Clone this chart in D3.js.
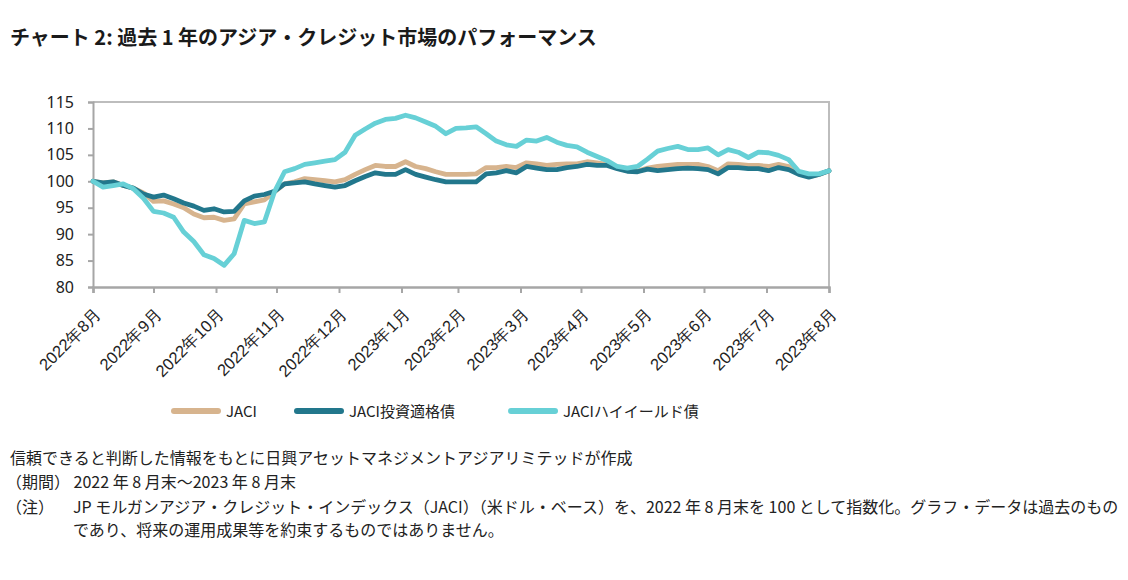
<!DOCTYPE html>
<html>
<head>
<meta charset="utf-8">
<script src="https://cdn.jsdelivr.net/npm/d3@7"></script>
<style>
  body { margin: 0; background: #fff; }
  svg { display: block; font-family: "Noto Sans CJK JP", "Noto Sans", sans-serif; }
</style>
</head>
<body>
<svg id="graphic-svg" width="1128" height="580"></svg>
<script>
// dates, roughly every 5 days
var dates = ["2022-08-31","2022-09-05","2022-09-10","2022-09-15","2022-09-20","2022-09-25","2022-09-30",
  "2022-10-05","2022-10-10","2022-10-15","2022-10-20","2022-10-25","2022-10-30","2022-11-04","2022-11-09",
  "2022-11-14","2022-11-19","2022-11-24","2022-11-29","2022-12-04","2022-12-09","2022-12-14","2022-12-19",
  "2022-12-24","2022-12-29","2023-01-03","2023-01-08","2023-01-13","2023-01-18","2023-01-23","2023-01-28",
  "2023-02-02","2023-02-07","2023-02-12","2023-02-17","2023-02-22","2023-02-27","2023-03-04","2023-03-09",
  "2023-03-14","2023-03-19","2023-03-24","2023-03-29","2023-04-03","2023-04-08","2023-04-13","2023-04-18",
  "2023-04-23","2023-04-28","2023-05-03","2023-05-08","2023-05-13","2023-05-18","2023-05-23","2023-05-28",
  "2023-06-02","2023-06-07","2023-06-12","2023-06-17","2023-06-22","2023-06-27","2023-07-02","2023-07-07",
  "2023-07-12","2023-07-17","2023-07-22","2023-07-27","2023-08-01","2023-08-06","2023-08-11","2023-08-16",
  "2023-08-21","2023-08-26","2023-08-31"];

var jaci = [100.0,99.7,99.9,99.2,98.7,97.8,96.2,96.3,95.7,95.0,93.8,93.1,93.2,92.6,92.9,95.7,96.1,96.5,98.0,
  99.5,99.9,100.5,100.3,100.1,99.9,100.3,101.3,102.2,103.0,102.8,102.8,103.7,102.8,102.4,101.8,101.3,101.3,
  101.3,101.4,102.6,102.6,102.8,102.6,103.5,103.3,103.0,103.2,103.3,103.3,103.7,103.5,103.2,102.5,102.0,101.9,
  102.5,102.8,103.0,103.2,103.2,103.2,102.8,102.0,103.3,103.2,103.0,103.0,102.8,103.2,102.8,101.6,100.9,101.3,102.0];

var jaciIG = [100.0,99.7,99.9,99.2,98.7,97.6,97.0,97.4,96.7,95.9,95.3,94.5,94.8,94.2,94.3,96.3,97.2,97.5,98.1,
  99.5,99.7,99.9,99.5,99.2,98.9,99.2,100.1,100.9,101.6,101.3,101.3,102.2,101.3,100.8,100.3,99.9,99.9,
  99.9,99.9,101.4,101.6,102.0,101.6,102.8,102.5,102.2,102.2,102.6,102.8,103.2,103.0,103.0,102.4,101.9,101.8,
  102.3,102.0,102.2,102.4,102.5,102.4,102.2,101.4,102.6,102.6,102.4,102.4,102.0,102.6,102.2,101.3,100.8,101.3,102.0];

var jaciHY = [100.0,98.9,99.2,99.5,98.6,96.8,94.3,94.0,93.2,90.4,88.6,86.1,85.4,84.1,86.3,92.6,92.0,92.3,98.0,
  101.8,102.4,103.2,103.5,103.8,104.1,105.5,108.7,109.9,111.0,111.7,111.9,112.5,112.0,111.2,110.4,109.0,110.0,
  110.1,110.3,109.0,107.6,106.9,106.6,107.8,107.6,108.3,107.4,106.8,106.5,105.5,104.7,103.9,102.8,102.5,102.8,
  104.2,105.7,106.2,106.6,106.0,106.0,106.3,105.0,106.0,105.5,104.5,105.5,105.4,104.9,104.1,101.9,101.4,101.4,102.0];

var tickDates = ["2022-08-31","2022-09-30","2022-10-31","2022-11-30","2022-12-31","2023-01-31","2023-02-28",
  "2023-03-31","2023-04-30","2023-05-31","2023-06-30","2023-07-31","2023-08-31"];
var tickLabels = ["2022年8月","2022年9月","2022年10月","2022年11月","2022年12月","2023年1月","2023年2月",
  "2023年3月","2023年4月","2023年5月","2023年6月","2023年7月","2023年8月"];
var yTicks = [80, 85, 90, 95, 100, 105, 110, 115];

var seriesNames = ["JACI", "JACI投資適格債", "JACIハイイールド債"];
var seriesColors = ["#d7b48e", "#22778c", "#67d0d6"];

var svg = d3.select("#graphic-svg");
var margin = { left: 93, right: 299, top: 102, bottom: 293 };
var plotW = 1128 - margin.left - margin.right;
var plotH = 580 - margin.top - margin.bottom;

var parse = d3.timeParse("%Y-%m-%d");
var x = d3.scaleTime()
  .domain([parse(dates[0]), parse(dates[dates.length - 1])])
  .range([margin.left, margin.left + plotW]);
var y = d3.scaleLinear()
  .domain([80, 115])
  .range([margin.top + plotH, margin.top]);

// Title
svg.append("text")
  .attr("x", 10).attr("y", 45)
  .attr("font-size", 20).attr("font-weight", "bold").attr("fill", "#1a1a1a")
  .text("チャート 2: 過去 1 年のアジア・クレジット市場のパフォーマンス");

// frame (top + right)
svg.append("path")
  .attr("d", "M" + margin.left + "," + margin.top + "H" + (margin.left + plotW) + "V" + (margin.top + plotH))
  .attr("fill", "none").attr("stroke", "#bdbdbd").attr("stroke-width", 2);

// Y axis
var yAxis = svg.append("g")
  .attr("transform", "translate(" + margin.left + ",0)")
  .call(d3.axisLeft(y).tickValues(yTicks).tickSize(5).tickPadding(14));
yAxis.select(".domain").attr("stroke", "#a6a6a6").attr("stroke-width", 2);
yAxis.selectAll(".tick line").attr("stroke", "#a6a6a6").attr("stroke-width", 2);
yAxis.selectAll(".tick text").attr("font-size", 16).attr("fill", "#222")
  .attr("font-family", "'Noto Sans', sans-serif");

// X axis
var xAxis = svg.append("g")
  .attr("transform", "translate(0," + (margin.top + plotH) + ")")
  .call(d3.axisBottom(x).tickValues(tickDates.map(parse)).tickSize(6)
    .tickFormat(function(d, i) { return tickLabels[i]; }));
xAxis.select(".domain").attr("stroke", "#a6a6a6").attr("stroke-width", 2.5);
xAxis.selectAll(".tick line").attr("stroke", "#a6a6a6").attr("stroke-width", 2);
xAxis.selectAll(".tick text")
  .attr("font-size", 16.5).attr("fill", "#222")
  .attr("text-anchor", "end")
  .attr("dy", null).attr("y", null)
  .attr("transform", "translate(9,28) rotate(-45)");

// Lines
var seriesData = [jaci, jaciIG, jaciHY];
var line = d3.line()
  .x(function(d, i) { return x(parse(dates[i])); })
  .y(function(d) { return y(d); });

svg.selectAll(".series")
  .data(seriesData)
  .enter()
  .append("path")
  .attr("class", "series")
  .attr("d", line)
  .attr("fill", "none")
  .attr("stroke", function(d, i) { return seriesColors[i]; })
  .attr("stroke-width", 4.8)
  .attr("stroke-linejoin", "round")
  .attr("stroke-linecap", "round");

// Legend
var legendX = [171, 294, 508];
var legend = svg.selectAll(".legend")
  .data(seriesNames)
  .enter()
  .append("g")
  .attr("class", "legend")
  .attr("transform", function(d, i) { return "translate(" + legendX[i] + ",411)"; });
legend.append("line")
  .attr("x1", 3).attr("x2", 47)
  .attr("stroke", function(d, i) { return seriesColors[i]; })
  .attr("stroke-width", 6)
  .attr("stroke-linecap", "round");
legend.append("text")
  .attr("x", 55).attr("y", 6)
  .attr("font-size", 15).attr("fill", "#222")
  .text(function(d) { return d; });

// Notes
var notes = svg.append("g").attr("font-size", 16).attr("fill", "#222");
notes.append("text").attr("x", 10).attr("y", 464)
  .text("信頼できると判断した情報をもとに日興アセットマネジメントアジアリミテッドが作成");
notes.append("text").attr("x", 6).attr("y", 488)
  .text("（期間） 2022 年 8 月末～2023 年 8 月末");
notes.append("text").attr("x", 6).attr("y", 513).text("（注）");
notes.append("text").attr("x", 73).attr("y", 513)
  .text("JP モルガンアジア・クレジット・インデックス（JACI）（米ドル・ベース）を、2022 年 8 月末を 100 として指数化。グラフ・データは過去のもの");
notes.append("text").attr("x", 73).attr("y", 536)
  .text("であり、将来の運用成果等を約束するものではありません。");
</script>
</body>
</html>
